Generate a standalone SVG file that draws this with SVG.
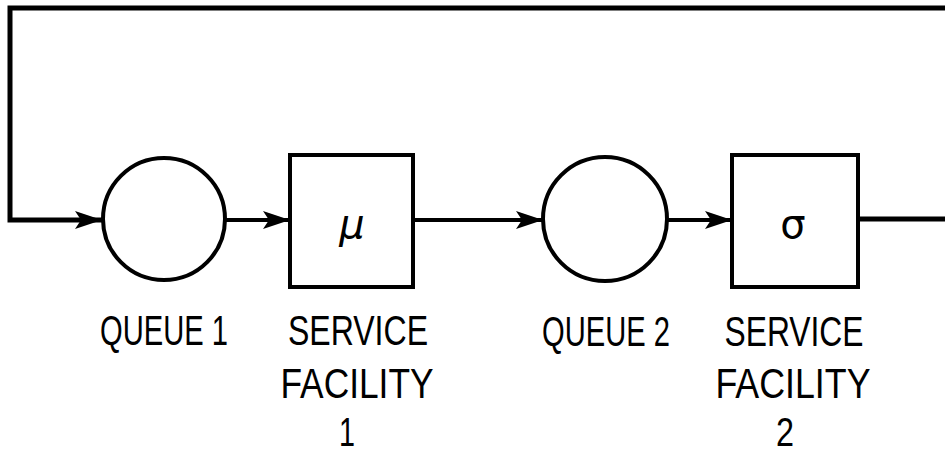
<svg xmlns="http://www.w3.org/2000/svg" width="945" height="455" viewBox="0 0 945 455">
  <defs>
    <marker id="arrow" markerUnits="userSpaceOnUse" markerWidth="28" markerHeight="20" refX="27" refY="10" orient="auto">
      <path d="M0,1 L27,10 L0,19 L6,10 Z" fill="#000"/>
    </marker>
    <style>
      .shape { fill: #fff; stroke: #000; stroke-width: 4; }
      .wire { fill: none; stroke: #000; stroke-width: 4; stroke-linejoin: miter; }
      .loop { fill: none; stroke: #000; stroke-width: 5; stroke-linejoin: miter; }
      .label { font-family: "Liberation Sans", Arial, sans-serif; font-size: 43px; fill: #000; text-anchor: middle; }
      .num { font-family: "Liberation Sans", Arial, sans-serif; font-size: 41px; fill: #000; text-anchor: middle; }
      .sym { font-family: "DejaVu Sans", sans-serif; font-size: 40px; fill: #000; text-anchor: middle; }
    </style>
  </defs>
  <rect width="945" height="455" fill="#fff"/>

  <!-- connectors -->
  <g id="connectors">
    <path class="loop" d="M945,8 L10,8 L10,220 L102,220" marker-end="url(#arrow)"/>
    <path class="wire" d="M225,220 L290,220" marker-end="url(#arrow)"/>
    <path class="wire" d="M413,220 L543,220" marker-end="url(#arrow)"/>
    <path class="wire" d="M667,220 L732,220" marker-end="url(#arrow)"/>
    <path class="loop" d="M858,219 L945,219"/>
  </g>

  <!-- first queue -->
  <g id="queue1">
    <circle class="shape" cx="164" cy="219" r="61"/>
    <text class="label" x="164" y="345" textLength="128" lengthAdjust="spacingAndGlyphs">QUEUE 1</text>
  </g>

  <!-- first server, rate mu -->
  <g id="service1">
    <rect class="shape" x="290" y="155" width="123" height="132"/>
    <text class="sym" x="352" y="238" font-style="italic">μ</text>
    <text class="label" x="358" y="345" textLength="140" lengthAdjust="spacingAndGlyphs">SERVICE</text>
    <text class="label" x="357" y="398" textLength="153" lengthAdjust="spacingAndGlyphs">FACILITY</text>
    <text class="num" x="347" y="446" textLength="16" lengthAdjust="spacingAndGlyphs">1</text>
  </g>

  <!-- second queue -->
  <g id="queue2">
    <circle class="shape" cx="605" cy="219" r="62"/>
    <text class="label" x="606" y="346" textLength="128" lengthAdjust="spacingAndGlyphs">QUEUE 2</text>
  </g>

  <!-- second server, rate sigma -->
  <g id="service2">
    <rect class="shape" x="732" y="155" width="126" height="132"/>
    <text class="sym" x="793" y="238">σ</text>
    <text class="label" x="794" y="346" textLength="139" lengthAdjust="spacingAndGlyphs">SERVICE</text>
    <text class="label" x="793" y="398" textLength="155" lengthAdjust="spacingAndGlyphs">FACILITY</text>
    <text class="num" x="785" y="446" textLength="18" lengthAdjust="spacingAndGlyphs">2</text>
  </g>
</svg>
